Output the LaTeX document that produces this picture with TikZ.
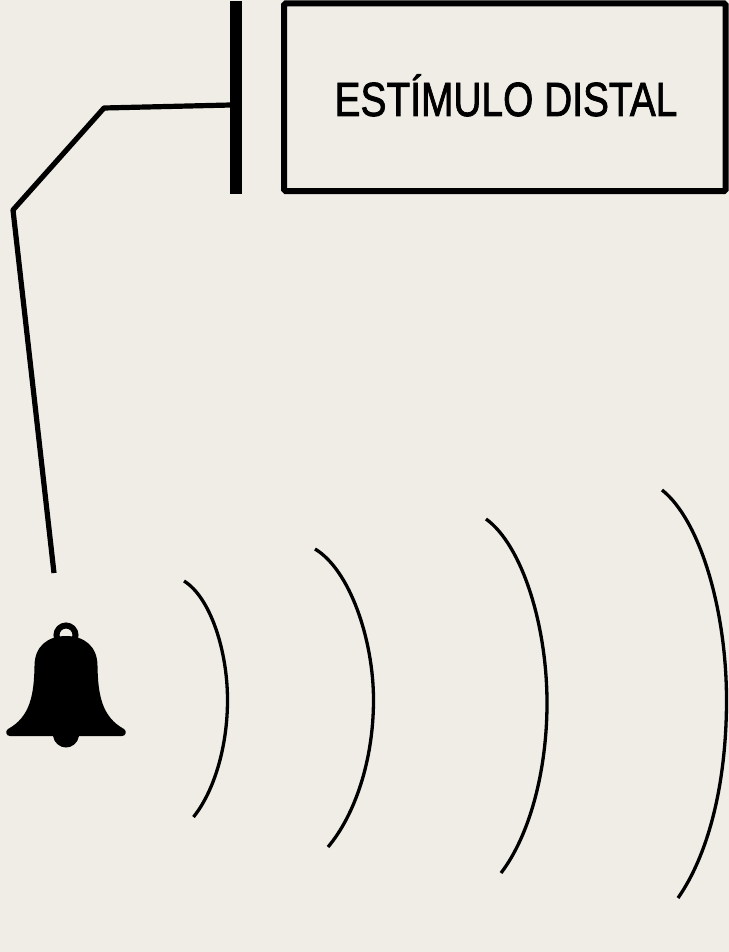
\documentclass[tikz,border=0pt]{standalone}
\usepackage{fontspec}
\setmainfont{Liberation Sans}
\newfontfamily\labelfont[FakeBold=1.8]{Liberation Sans}
\definecolor{paper}{HTML}{EFEDE5}
\tikzset{
  wave/.style={draw=black,line width=3.3pt},
  boxstyle/.style={draw=black,line width=6pt,rounded corners=1.5pt,fill=paper,minimum width=441.5pt,minimum height=187.5pt,inner sep=0pt},
}
\begin{document}
\begin{tikzpicture}[x=1pt,y=-1pt]
\useasboundingbox (0,0) rectangle (728,952);
\fill[paper] (-4,-4) rectangle (732,956);
\node[boxstyle] (box) at (504.75,97.25) {};
\node[inner sep=0pt,anchor=base] (label) at (506,116) {\scalebox{0.81}[1.0]{\labelfont\fontsize{48pt}{52pt}\selectfont ESTÍMULO DISTAL}};
\fill[black] (230,1) rectangle (242,194);
\coordinate (bar) at (231,105);
\coordinate (k1) at (104,108);
\coordinate (k2) at (13,210);
\coordinate (bellend) at (54,573);
\draw[draw=black,line width=5.2pt,line join=round] (bar) -- (k1) -- (k2) -- (bellend);
% bell
\draw[black,line width=6pt] (66,635) circle (9.5pt);
\fill[black] (66,636)
  .. controls (48,636) and (34.5,646) .. (34.5,666)
  .. controls (34,695) and (30,717) .. (8,729)
  .. controls (5,731) and (6,736) .. (10,736)
  -- (53,736)
  .. controls (54,743) and (60,747.5) .. (66,747.5)
  .. controls (72,747.5) and (78,743) .. (79,736)
  -- (122,736)
  .. controls (126,736) and (127,731) .. (124,729)
  .. controls (102,717) and (98,695) .. (97.5,666)
  .. controls (97.5,646) and (84,636) .. (66,636) -- cycle;
% waves
\coordinate (w1a) at (184,581); \coordinate (w1p) at (227.5,700); \coordinate (w1b) at (193.5,817);
\coordinate (w2a) at (315,549); \coordinate (w2p) at (373.5,700); \coordinate (w2b) at (328,847);
\coordinate (w3a) at (486,519); \coordinate (w3p) at (547,703); \coordinate (w3b) at (501,873);
\coordinate (w4a) at (662,490); \coordinate (w4p) at (726.5,700); \coordinate (w4b) at (678,898);
\draw[wave] (w1a) .. controls (210,597) and (227.5,650) .. (w1p) .. controls (227.5,745) and (215,790) .. (w1b);
\draw[wave] (w2a) .. controls (350,570) and (373.5,640) .. (w2p) .. controls (373.5,760) and (355,815) .. (w2b);
\draw[wave] (w3a) .. controls (522,545) and (547,625) .. (w3p) .. controls (547,770) and (530,835) .. (w3b);
\draw[wave] (w4a) .. controls (700,520) and (726.5,610) .. (w4p) .. controls (726.5,785) and (708,855) .. (w4b);
\end{tikzpicture}
\end{document}
